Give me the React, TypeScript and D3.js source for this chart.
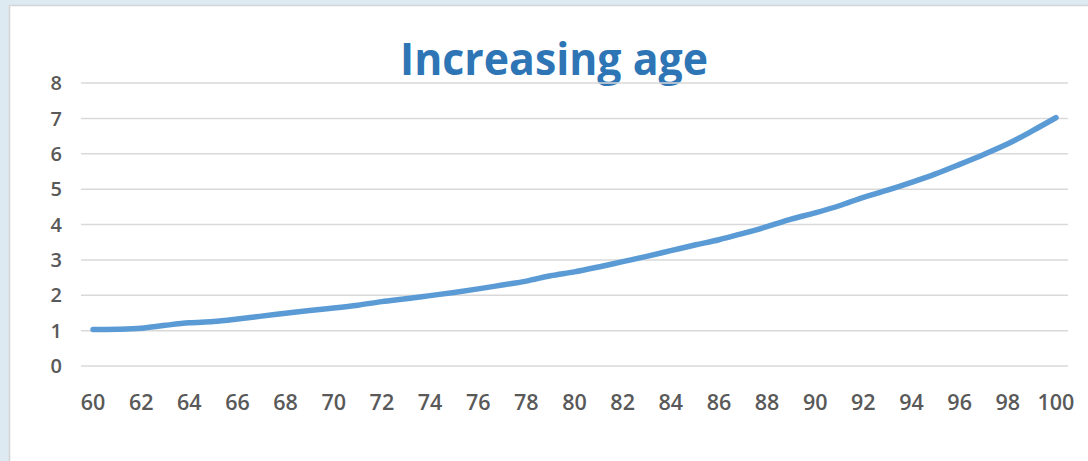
import React from "react";
import * as d3 from "d3";

// Ages along the horizontal axis
const ages: number[] = d3.range(60, 101);

// Relative risk at each age
const riskValues: number[] = [
  1.03, 1.04, 1.07, 1.15, 1.22, 1.26, 1.33, 1.41, 1.49, 1.57,
  1.64, 1.72, 1.82, 1.9, 1.99, 2.08, 2.18, 2.29, 2.4, 2.55,
  2.66, 2.8, 2.95, 3.1, 3.26, 3.42, 3.57, 3.75, 3.94, 4.15,
  4.33, 4.53, 4.77, 4.97, 5.19, 5.43, 5.7, 5.98, 6.28, 6.64,
  7.02,
];

const yTicks: number[] = [0, 1, 2, 3, 4, 5, 6, 7, 8];
const xTickLabels: number[] = d3.range(60, 101, 2);

const title = "Increasing age";

const W = 1088;
const H = 461;

export default function App() {
  const plotLeft = 81;
  const plotRight = 1068;
  const plotTop = 83;
  const plotBottom = 366;

  const x = d3
    .scaleBand<number>()
    .domain(ages)
    .range([plotLeft, plotRight])
    .paddingInner(0)
    .paddingOuter(0);
  const cx = (a: number) => (x(a) as number) + x.bandwidth() / 2;

  const y = d3.scaleLinear().domain([0, 8]).range([plotBottom, plotTop]);

  const data = ages.map((a, i) => ({ age: a, v: riskValues[i] }));
  const line = d3
    .line<{ age: number; v: number }>()
    .x((d) => cx(d.age))
    .y((d) => y(d.v))
    .curve(d3.curveMonotoneX);

  const labelFont = "'Open Sans', 'DejaVu Sans', sans-serif";

  return (
    <svg
      width={W}
      height={H}
      viewBox={`0 0 ${W} ${H}`}
      style={{ position: "absolute", left: 0, top: 0, display: "block" }}
    >
      <rect x={0} y={0} width={W} height={H} fill="#deeaf2" />
      <rect
        x={9.5}
        y={5.5}
        width={W + 20}
        height={H + 20}
        fill="#ffffff"
        stroke="#d4d4d4"
        strokeWidth={1.5}
      />

      <text
        x={554}
        y={75}
        textAnchor="middle"
        fontFamily={labelFont}
        fontWeight={700}
        fontSize={44}
        fill="#2e75b6"
        textLength={308}
        lengthAdjust="spacingAndGlyphs"
      >
        {title}
      </text>

      {yTicks.map((t) => (
        <g key={`y${t}`}>
          <line
            x1={plotLeft}
            x2={plotRight}
            y1={y(t)}
            y2={y(t)}
            stroke="#d9d9d9"
            strokeWidth={1.5}
          />
          <text
            x={62}
            y={y(t)}
            dy="0.36em"
            textAnchor="end"
            fontFamily={labelFont}
            fontWeight={600}
            fontSize={20}
            fill="#595959"
          >
            {t}
          </text>
        </g>
      ))}

      {xTickLabels.map((a) => (
        <text
          key={`x${a}`}
          x={cx(a)}
          y={410}
          textAnchor="middle"
          fontFamily={labelFont}
          fontWeight={600}
          fontSize={21.5}
          fill="#595959"
        >
          {a}
        </text>
      ))}

      <path
        d={line(data) ?? ""}
        fill="none"
        stroke="#5b9bd5"
        strokeWidth={5.5}
        strokeLinecap="round"
        strokeLinejoin="round"
      />
    </svg>
  );
}
